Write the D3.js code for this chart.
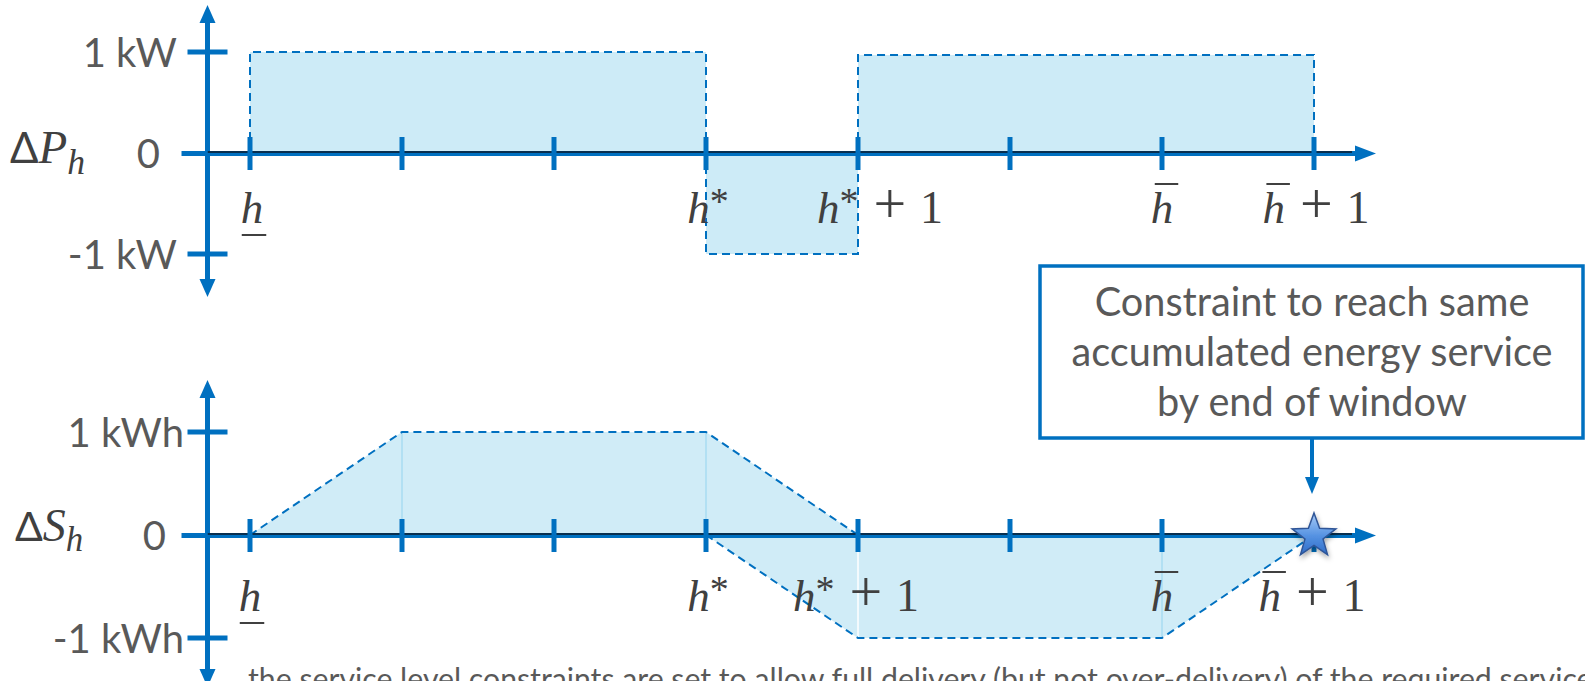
<!DOCTYPE html>
<html>
<head>
<meta charset="utf-8">
<script src="https://cdn.jsdelivr.net/npm/d3@7"></script>
<style>
  html, body { margin: 0; padding: 0; background: #ffffff; overflow: hidden; }
  svg { display: block; }
</style>
</head>
<body>
<svg id="chart" width="1585" height="681"></svg>
<script>
// ---------------- DATA ----------------
const hourTicks = [0, 1, 2, 3, 4, 5, 6, 7];
const topTickLabels = ["_h", "", "", "h*", "h*+1", "", "¯h", "¯h+1"];
const bottomTickLabels = ["_h", "", "", "h*", "h*+1", "", "¯h", "¯h+1"];

// Power deviation steps (kW)
const powerStart = [0, 3, 4];
const powerEnd = [3, 4, 7];
const powerValue = [1, -1, 0.97];

// Accumulated energy deviation (kWh) – two overlapping shapes
const energyUpperX = [0, 1, 3, 4];
const energyUpperY = [0, 1, 1, 0];
const energyLowerX = [3, 4, 6, 7];
const energyLowerY = [0, -1, -1, 0];

const powerAxisValues = [1, 0, -1];
const powerAxisLabels = ["1 kW", "0", "-1 kW"];
const energyAxisValues = [1, 0, -1];
const energyAxisLabels = ["1 kWh", "0", "-1 kWh"];

const calloutLines = ["Constraint to reach same", "accumulated energy service", "by end of window"];
const starHour = 7;
const starValue = 0;
const footnote = "the service level constraints are set to allow full delivery (but not over-delivery) of the required service";

// ---------------- STYLE ----------------
const BLUE = "#0070C0";
const FILL = "#CDEBF7";
const GREY = "#595959";
const MATH = "#404040";
const SANS = "Lato, 'Open Sans', sans-serif";
const SERIF = "'Liberation Serif', 'DejaVu Serif', serif";

const svg = d3.select("#chart");
const defs = svg.append("defs");

// scales
const x = d3.scaleLinear().domain([0, 7]).range([250, 1314]);
const yTop = d3.scaleLinear().domain([-1, 1]).range([254, 52]);
const yBot = d3.scaleLinear().domain([-1, 1]).range([638, 432]);
const axisX = 207.5;

// ---------- star gradient + shadow ----------
const grad = defs.append("linearGradient").attr("id", "starGrad")
  .attr("x1", 0).attr("y1", 0).attr("x2", 0).attr("y2", 1);
grad.append("stop").attr("offset", "0%").attr("stop-color", "#A8CBF7");
grad.append("stop").attr("offset", "55%").attr("stop-color", "#5592E2");
grad.append("stop").attr("offset", "100%").attr("stop-color", "#2F6CC8");
const filt = defs.append("filter").attr("id", "shadow")
  .attr("x", "-50%").attr("y", "-50%").attr("width", "200%").attr("height", "200%");
filt.append("feDropShadow").attr("dx", 1).attr("dy", 3).attr("stdDeviation", 2.5)
  .attr("flood-color", "#000").attr("flood-opacity", 0.35);

// ---------- TOP PANEL: power steps ----------
const gTop = svg.append("g");
powerStart.forEach((s, i) => {
  const e = powerEnd[i], v = powerValue[i];
  gTop.append("rect")
    .attr("x", x(s)).attr("width", x(e) - x(s))
    .attr("y", Math.min(yTop(v), yTop(0)))
    .attr("height", Math.abs(yTop(v) - yTop(0)))
    .attr("fill", FILL);
});
powerStart.forEach((s, i) => {
  const e = powerEnd[i], v = powerValue[i];
  const p = d3.path();
  p.moveTo(x(s), yTop(0)); p.lineTo(x(s), yTop(v)); p.lineTo(x(e), yTop(v)); p.lineTo(x(e), yTop(0));
  gTop.append("path").attr("d", p.toString())
    .attr("fill", "none").attr("stroke", BLUE).attr("stroke-width", 2)
    .attr("stroke-dasharray", "8,5");
});

// ---------- BOTTOM PANEL: energy shapes ----------
const gBot = svg.append("g");
const area = d3.area().x(d => x(d[0])).y0(yBot(0)).y1(d => yBot(d[1]));
const line = d3.line().x(d => x(d[0])).y(d => yBot(d[1]));
const upper = energyUpperX.map((v, i) => [v, energyUpperY[i]]);
const lower = energyLowerX.map((v, i) => [v, energyLowerY[i]]);
[upper, lower].forEach(pts => {
  gBot.append("path").attr("d", area(pts)).attr("fill", FILL).attr("opacity", 0.95);
});
// faint segment seams
[[upper[1], "#A9DCF2"], [upper[2], "#A9DCF2"], [lower[1], "#FFFFFF"], [lower[2], "#A9DCF2"]].forEach(([pt, c]) => {
  gBot.append("line").attr("x1", x(pt[0])).attr("x2", x(pt[0]))
    .attr("y1", yBot(0)).attr("y2", yBot(pt[1]))
    .attr("stroke", c).attr("stroke-width", 1.5);
});
[upper, lower].forEach(pts => {
  gBot.append("path").attr("d", line(pts))
    .attr("fill", "none").attr("stroke", BLUE).attr("stroke-width", 2)
    .attr("stroke-dasharray", "8,5");
});

// ---------- AXES ----------
function drawAxes(g, yScale, topTip, bottomTip, values, labels, rightEdge, zeroRight) {
  const y0 = yScale(0);
  // y axis
  g.append("line").attr("x1", axisX).attr("x2", axisX)
    .attr("y1", topTip + 12).attr("y2", bottomTip - 12)
    .attr("stroke", BLUE).attr("stroke-width", 5);
  g.append("path").attr("d", `M${axisX},${topTip} L${axisX - 8},${topTip + 18} L${axisX + 8},${topTip + 18} Z`).attr("fill", BLUE);
  g.append("path").attr("d", `M${axisX},${bottomTip} L${axisX - 8},${bottomTip - 18} L${axisX + 8},${bottomTip - 18} Z`).attr("fill", BLUE);
  // x axis
  g.append("line").attr("x1", axisX).attr("x2", 1362)
    .attr("y1", y0 + 0.5).attr("y2", y0 + 0.5)
    .attr("stroke", BLUE).attr("stroke-width", 5);
  g.append("line").attr("x1", axisX).attr("x2", 1352)
    .attr("y1", y0 - 1).attr("y2", y0 - 1)
    .attr("stroke", "#0b1a2a").attr("stroke-width", 1.5);
  g.append("path").attr("d", `M1376,${y0 + 0.5} L1355,${y0 - 7.5} L1355,${y0 + 8.5} Z`).attr("fill", BLUE);
  // x ticks
  hourTicks.forEach(h => {
    g.append("line").attr("x1", x(h)).attr("x2", x(h))
      .attr("y1", y0 - 16).attr("y2", y0 + 17)
      .attr("stroke", BLUE).attr("stroke-width", 5);
  });
  // y ticks + labels
  values.forEach((v, i) => {
    const yy = yScale(v);
    if (v === 0) {
      g.append("line").attr("x1", axisX - 26).attr("x2", axisX).attr("y1", yy + 0.5).attr("y2", yy + 0.5)
        .attr("stroke", BLUE).attr("stroke-width", 5);
      g.append("text").attr("x", zeroRight).attr("y", yy + 15)
        .attr("text-anchor", "end").attr("font-family", SANS).attr("font-size", 40)
        .attr("fill", GREY).text(labels[i]);
    } else {
      g.append("line").attr("x1", axisX - 20).attr("x2", axisX + 20).attr("y1", yy).attr("y2", yy)
        .attr("stroke", BLUE).attr("stroke-width", 5);
      g.append("text").attr("x", rightEdge).attr("y", yy + 15)
        .attr("text-anchor", "end").attr("font-family", SANS).attr("font-size", 40)
        .attr("fill", GREY).text(labels[i]);
    }
  });
}
drawAxes(svg.append("g"), yTop, 5, 297, powerAxisValues, powerAxisLabels, 177, 160);
drawAxes(svg.append("g"), yBot, 380, 687, energyAxisValues, energyAxisLabels, 184, 166);

// ---------- math tick labels ----------
function mathLabel(g, lab, cx, baseline) {
  if (!lab) return;
  const deco = lab[0] === "_" ? "under" : (lab[0] === "¯" ? "over" : null);
  const core = deco ? lab.slice(1) : lab;
  const star = core.indexOf("*") >= 0;
  const plus = core.indexOf("+1") >= 0;
  const t = g.append("text").attr("x", cx).attr("y", baseline)
    .attr("text-anchor", "middle").attr("font-family", SERIF)
    .attr("font-size", 45).attr("fill", MATH);
  t.append("tspan").attr("font-style", "italic").text("h");
  let back = 0;
  if (star) {
    t.append("tspan").attr("font-size", 38).attr("dy", -9).text("*");
    back = 9;
  }
  if (plus) {
    t.append("tspan").attr("dy", back).attr("dx", 15).attr("font-size", 58).text("+");
    t.append("tspan").attr("dx", 14).attr("font-size", 46).text("1");
  }
  const ext = t.node().getExtentOfChar(0);
  if (deco === "under") {
    g.append("line").attr("x1", ext.x + 1).attr("x2", ext.x + ext.width + 3)
      .attr("y1", baseline + 12).attr("y2", baseline + 12)
      .attr("stroke", MATH).attr("stroke-width", 2);
  } else if (deco === "over") {
    g.append("line").attr("x1", ext.x + 4).attr("x2", ext.x + ext.width + 5)
      .attr("y1", baseline - 39).attr("y2", baseline - 39)
      .attr("stroke", MATH).attr("stroke-width", 2);
  }
}
const topLabelDx = [2, 0, 0, 2, 22, 0, 0, 2];
const botLabelDx = [0, 0, 0, 2, -2, 0, 0, -2];
const gLab = svg.append("g");
topTickLabels.forEach((lab, i) => mathLabel(gLab, lab, x(hourTicks[i]) + topLabelDx[i], 223));
bottomTickLabels.forEach((lab, i) => mathLabel(gLab, lab, x(hourTicks[i]) + botLabelDx[i], 611));

// ---------- Δ labels ----------
function deltaLabel(sym, x0, baseline, size) {
  const t = svg.append("text").attr("x", x0).attr("y", baseline).attr("fill", MATH);
  t.append("tspan").attr("font-family", SANS).attr("font-size", size).text("Δ");
  t.append("tspan").attr("font-family", SERIF).attr("font-style", "italic").attr("font-size", size * 1.12).text(sym);
  t.append("tspan").attr("font-family", SERIF).attr("font-style", "italic").attr("font-size", size * 0.85)
    .attr("dy", size * 0.25).text("h");
}
deltaLabel("P", 10, 163, 42);
deltaLabel("S", 15, 541, 41);

// ---------- callout ----------
const gC = svg.append("g");
gC.append("rect").attr("x", 1040).attr("y", 266).attr("width", 543).attr("height", 172)
  .attr("fill", "#fff").attr("stroke", BLUE).attr("stroke-width", 3.5);
const cTexts = calloutLines.map((s, i) => gC.append("text")
  .attr("x", 1312).attr("y", 316 + i * 50).attr("text-anchor", "middle")
  .attr("font-family", SANS).attr("font-size", 40).attr("fill", GREY).text(s));
const w2 = cTexts[1].node().getComputedTextLength();
const cSize = 40 * 481 / w2;
cTexts.forEach(t => t.attr("font-size", cSize));
gC.append("line").attr("x1", 1312).attr("x2", 1312).attr("y1", 438).attr("y2", 480)
  .attr("stroke", BLUE).attr("stroke-width", 4);
gC.append("path").attr("d", "M1312,494 L1305,477 L1319,477 Z").attr("fill", BLUE);

// star
const R = 23, r = 9.5;
const starPts = d3.range(10).map(k => {
  const ang = -Math.PI / 2 + k * Math.PI / 5;
  const rad = k % 2 === 0 ? R : r;
  return [x(starHour) + rad * Math.cos(ang), yBot(starValue) + 1 + rad * Math.sin(ang)];
});
svg.append("path").attr("d", "M" + starPts.map(p => p.join(",")).join("L") + "Z")
  .attr("fill", "url(#starGrad)").attr("stroke", "#2F5597").attr("stroke-width", 1.5)
  .attr("filter", "url(#shadow)");

// ---------- footnote (cut off by the frame, as in the reference) ----------
const fn = svg.append("text").attr("x", 248).attr("y", 690)
  .attr("font-family", SANS).attr("font-size", 28).attr("fill", GREY).text(footnote);
const fw = fn.node().getComputedTextLength();
fn.attr("font-size", 28 * 1345 / fw);
</script>
</body>
</html>
